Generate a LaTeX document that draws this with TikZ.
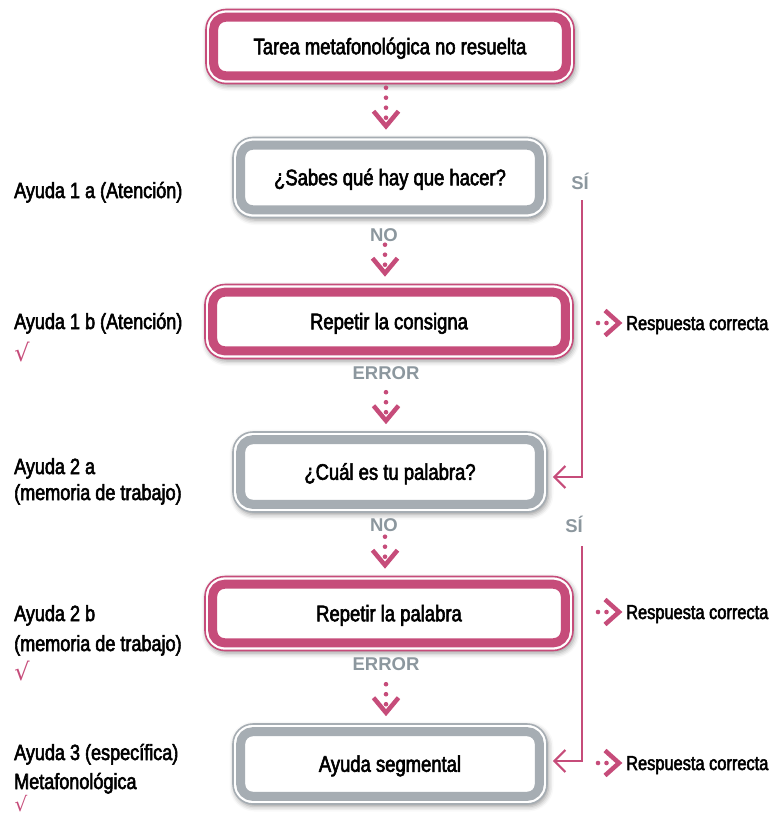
\documentclass[tikz,border=0pt]{standalone}
\usepackage{fontspec}
\setmainfont{Liberation Sans}[FakeStretch=0.82,FakeBold=2.5]
\newfontfamily\widefont{Liberation Sans}
\newfontfamily\symfont{DejaVu Sans}
\usetikzlibrary{arrows.meta,shadows.blur,calc}
\definecolor{pinkc}{RGB}{198,76,122}
\definecolor{grayb}{RGB}{166,173,179}
\definecolor{grayt}{RGB}{140,151,158}
\tikzset{
  boxbase/.style={rounded corners=20pt, fill=white, line width=1.6pt, text height=15.5pt, text depth=0pt, inner sep=0pt,
    font=\fontsize{22.5}{26}\selectfont,
    blur shadow={shadow xshift=1.5pt, shadow yshift=-2.5pt, shadow blur radius=5pt, shadow opacity=40}},
  pinkbox/.style={boxbase, draw=pinkc, minimum width=368pt, minimum height=74pt},
  graybox/.style={boxbase, draw=grayb, minimum width=314pt, minimum height=80pt},
  band/.style={line width=9pt, rounded corners=12pt},
  lbl/.style={anchor=base west, inner sep=0pt, font=\fontsize{22}{26}\selectfont},
  glbl/.style={inner sep=0pt, text=grayt, text height=13pt, text depth=0pt, font=\widefont\bfseries\fontsize{18.5}{22}\selectfont},
  chk/.style={inner sep=0pt, text=pinkc, font=\symfont\fontsize{24}{28}\selectfont},
  resp/.style={anchor=base west, inner sep=0pt, font=\fontsize{20}{24}\selectfont},
  sideconn/.style={draw=pinkc, line width=2.2pt, -{Straight Barb[length=11pt,width=22pt,line width=2.2pt]}},
  chev/.style={draw=pinkc, line width=4.5pt, line cap=butt, line join=miter},
  dnarrowA/.pic={
    \foreach \d in {-8.5,-18.5,-28.5,-38.5} \fill[pinkc] (0,\d) circle (2.3);
    \draw[chev] (-12.5,-15) -- (0,0) -- (12.5,-15);
  },
  dnarrowB/.pic={
    \foreach \d in {-8.5,-18.5,-28.5} \fill[pinkc] (0,\d) circle (2.3);
    \draw[chev] (-12.5,-15) -- (0,0) -- (12.5,-15);
  },
  rtarrow/.pic={
    \foreach \d in {-21,-12.5} \fill[pinkc] (\d,0) circle (2.3);
    \draw[chev] (-14,-12.5) -- (0,0) -- (-14,12.5);
  },
}
\newcommand{\boxband}[2]{%
  \draw[band,#2] ([xshift=8.5pt,yshift=-8.5pt]#1.north west) rectangle ([xshift=-8.5pt,yshift=8.5pt]#1.south east);}

\begin{document}
\begin{tikzpicture}[x=1pt,y=-1pt]
\useasboundingbox (0,0) rectangle (783,814);

% boxes
\node[pinkbox] (b1) at (390,46.5) {Tarea metafonológica no resuelta};
\boxband{b1}{pinkc}
\node[graybox] (b2) at (390,177.5) {¿Sabes qué hay que hacer?};
\boxband{b2}{grayb}
\node[pinkbox] (b3) at (389,321.5) {Repetir la consigna};
\boxband{b3}{pinkc}
\node[graybox] (b4) at (390,472) {¿Cuál es tu palabra?};
\boxband{b4}{grayb}
\node[pinkbox] (b5) at (389,613.5) {Repetir la palabra};
\boxband{b5}{pinkc}
\node[graybox] (b6) at (390,764) {Ayuda segmental};
\boxband{b6}{grayb}

% down arrows
\pic at ([xshift=-4pt,yshift=10.5pt]b2.north) {dnarrowA};
\pic at ([xshift=-4pt,yshift=10.5pt]b3.north) {dnarrowB};
\pic at ([xshift=-4pt,yshift=10.5pt]b4.north) {dnarrowB};
\pic at ([xshift=-4pt,yshift=10.5pt]b5.north) {dnarrowB};
\pic at ([xshift=-4pt,yshift=10.5pt]b6.north) {dnarrowB};

% gray labels
\node[glbl] (no1) at (384,235) {NO};
\node[glbl] (er1) at (386,373) {ERROR};
\node[glbl] (no2) at (384,525) {NO};
\node[glbl] (er2) at (386,664) {ERROR};
\node[glbl] (si1) at (580,183) {SÍ};
\node[glbl] (si2) at (574,526) {SÍ};

% side connectors
\coordinate (s1) at (582,200);
\draw[sideconn] (s1) |- ([xshift=5pt,yshift=-5pt]b4.east);
\coordinate (s2) at (582,546);
\draw[sideconn] (s2) |- ([xshift=5pt,yshift=3pt]b6.east);

% respuesta correcta
\node[resp] (r1) at (626,330) {Respuesta correcta};
\node[resp] (r2) at (626,619) {Respuesta correcta};
\node[resp] (r3) at (626,770) {Respuesta correcta};
\pic at ($(r1.base west)+(-7,-7)$) {rtarrow};
\pic at ($(r2.base west)+(-7,-7)$) {rtarrow};
\pic at ($(r3.base west)+(-7,-7)$) {rtarrow};

% left labels
\node[lbl] (l1) at (14,198) {Ayuda 1 a (Atención)};
\node[lbl] (l2) at (14,329) {Ayuda 1 b (Atención)};
\node[chk] (k1) at (22,352) {√};
\node[lbl] (l3) at (14,474) {Ayuda 2 a};
\node[lbl] (l3b) at (14,500) {(memoria de trabajo)};
\node[lbl] (l4) at (14,621) {Ayuda 2 b};
\node[lbl] (l4b) at (14,651) {(memoria de trabajo)};
\node[chk] (k2) at (22,671) {√};
\node[lbl] (l5) at (14,760) {Ayuda 3 (específica)};
\node[lbl] (l5b) at (14,789) {Metafonológica};
\node[chk, font=\symfont\fontsize{20}{24}\selectfont, anchor=south, text depth=0pt] (k3) at (21,812) {√};
\end{tikzpicture}
\end{document}
